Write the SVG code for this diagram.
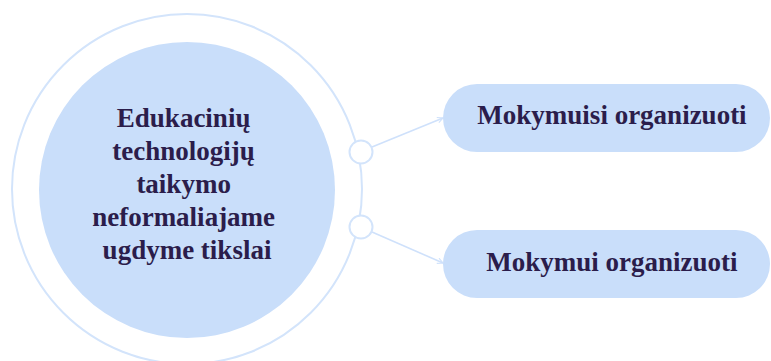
<svg xmlns="http://www.w3.org/2000/svg" width="771" height="361" viewBox="0 0 771 361">
  <style>
    .ring { fill: none; stroke: #d3e4fb; stroke-width: 2; }
    .hub { fill: #c9defa; }
    .knot { fill: #ffffff; stroke: #d3e4fb; stroke-width: 2; }
    .pill { fill: #c9defa; }
    .label { font-family: "Liberation Serif", "Times New Roman", serif; font-weight: bold; font-size: 27px; fill: #2b1d4b; text-anchor: middle; }
    .link { fill: none; stroke: #cfe1fb; stroke-width: 1.6; }
  </style>
  <defs>
    <marker id="tip" viewBox="0 0 10 10" refX="9" refY="5" markerWidth="7" markerHeight="7" orient="auto" markerUnits="userSpaceOnUse">
      <path d="M1,1 L9,5 L1,9" fill="none" stroke="#cfe1fb" stroke-width="1.6"/>
    </marker>
  </defs>
  <rect width="771" height="361" fill="#ffffff"/>

  <g id="hub">
    <circle class="ring" cx="187" cy="189" r="175"/>
    <circle class="hub" cx="187" cy="190" r="148"/>
    <text class="label" x="187">
      <tspan x="187" y="127">Edukacinių</tspan>
      <tspan x="187" y="160">technologijų</tspan>
      <tspan x="187" y="193">taikymo</tspan>
      <tspan x="187" y="226">neformaliajame</tspan>
      <tspan x="187" y="259">ugdyme tikslai</tspan>
    </text>
  </g>

  <g id="connectors">
    <line class="link" x1="372" y1="147" x2="443" y2="118" marker-end="url(#tip)"/>
    <line class="link" x1="372" y1="232" x2="443" y2="263" marker-end="url(#tip)"/>
    <circle class="knot" cx="361" cy="152" r="11.5"/>
    <circle class="knot" cx="361" cy="227" r="11.5"/>
  </g>

  <g id="goal-learning">
    <rect class="pill" x="443" y="84" width="327" height="68" rx="34"/>
    <text class="label" x="612" y="124">Mokymuisi organizuoti</text>
  </g>

  <g id="goal-teaching">
    <rect class="pill" x="443" y="230" width="327" height="68" rx="34"/>
    <text class="label" x="612" y="271">Mokymui organizuoti</text>
  </g>
</svg>
